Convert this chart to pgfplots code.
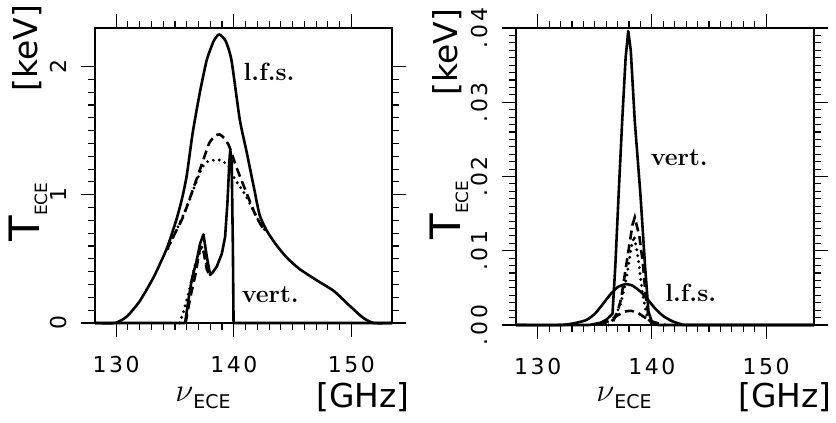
\RequirePackage{fix-cm}
\documentclass[border=0pt]{standalone}
\usepackage{fontspec}
\setmainfont{DejaVu Sans}
\newfontfamily\tickfam[LetterSpace=12]{DejaVu Sans}
\newfontfamily\cmfont{Latin Modern Roman}
\usepackage{pgfplots}
\pgfplotsset{compat=1.18}

\newcommand\tickfont{\tickfam\fontsize{22}{22}\selectfont}
\newcommand\labfont{\fontsize{33}{33}\selectfont}
\newcommand\curvelab{\cmfont\bfseries\fontsize{25}{25}\selectfont}

\pgfplotsset{
  ecebox/.style={
    scale only axis, anchor=south west,
    tick align=inside, xtick pos=both, ytick pos=both,
    major tick length=-14bp, minor tick length=-7bp,
    axis line style={line width=1.4bp},
    tick style={line width=1.1bp,black},
    xtick={130,140,150}, minor x tick num=9,
    minor y tick num=9,
    scaled y ticks=false,
    tick label style={font=\tickfont},
    /pgf/number format/assume math mode=true,
    y tick label style={rotate=90,anchor=south},
    xticklabel shift=30bp, yticklabel shift=25bp,
    clip=false,
  },
  % tick-only pass for the bottom and left edges (no labels)
  tickpass/.style={ecebox,
    tick align=outside, xtick pos=left, ytick pos=left,
    major tick length=14bp, minor tick length=7bp,
    xticklabels={}, yticklabels={}, axis line style={draw=none}},
  sol/.style={black,line width=2.6bp,line join=round},
  dsh/.style={black,line width=2.6bp,dash pattern=on 9bp off 5bp},
  dtt/.style={black,line width=3.2bp,line cap=round,dash pattern=on 0bp off 6bp},
}

\begin{document}
\begin{tikzpicture}[x=1bp,y=1bp]
\path[use as bounding box] (0,0) rectangle (836,422);

% ---- left panel: T_ECE in keV
\begin{axis}[tickpass, at={(95bp,99bp)}, width=297bp, height=295bp,
  xmin=128.2, xmax=153.45, ymin=0, ymax=2.3, ytick={0,1,2}]
\end{axis}
\begin{axis}[ecebox, at={(95bp,99bp)}, width=297bp, height=295bp,
  xmin=128.2, xmax=153.45, ymin=0, ymax=2.3, ytick={0,1,2}]
% l.f.s.
\addplot[sol,smooth,tension=0.35] coordinates {(128.2,0)(129.9,0)(130.9,0.05)(132.0,0.17)(133.2,0.36)(134.3,0.58)(135.1,0.80)(135.6,0.97)(136.0,1.15)(136.5,1.48)(137.1,1.79)(137.7,2.05)(138.3,2.20)(138.75,2.25)(139.3,2.20)(139.8,2.05)(140.5,1.59)(141.1,1.33)(141.7,1.06)(142.2,0.84)(142.8,0.72)(143.6,0.61)(144.5,0.51)(145.6,0.42)(147.1,0.33)(148.5,0.25)(149.9,0.13)(151.0,0.04)(151.9,0)(153.45,0)};
\addplot[dsh,smooth,tension=0.35] coordinates {(134.3,0.57)(135.0,0.70)(135.7,0.83)(136.6,1.06)(137.4,1.27)(137.9,1.40)(138.4,1.46)(138.8,1.47)(139.2,1.44)(139.6,1.38)(140.2,1.22)(141.1,1.01)(141.9,0.83)(142.6,0.72)};
\addplot[dtt,smooth,tension=0.35] coordinates {(134.4,0.58)(135.1,0.72)(135.8,0.86)(136.4,1.00)(136.9,1.12)(137.3,1.21)(137.8,1.26)(138.3,1.27)(138.8,1.27)(139.5,1.23)(140.1,1.12)(140.7,1.04)(141.2,0.96)(141.7,0.87)(142.1,0.80)(142.6,0.73)};
% vert.
\addplot[sol] coordinates {(128.2,0)(135.86,0)(136.14,0.18)(136.43,0.34)(136.85,0.49)(137.14,0.62)(137.42,0.69)(137.7,0.52)(137.99,0.375)(138.25,0.40)(138.55,0.44)(138.98,0.54)(139.26,0.67)(139.46,0.94)(139.63,1.27)(139.7,1.35)(139.82,1.25)(139.92,0.6)(139.98,0)(153.45,0)};
\addplot[dsh] coordinates {(135.9,0)(136.3,0.20)(136.7,0.36)(137.1,0.57)(137.35,0.60)(137.7,0.42)(138.0,0.36)};
\addplot[dtt] coordinates {(135.4,0)(135.7,0.08)(136.2,0.25)(136.7,0.45)(137.1,0.55)(137.4,0.56)(137.7,0.45)(138.0,0.38)};
\node[font=\curvelab] at (axis cs:143.0,1.96) {l.f.s.};
\node[font=\curvelab] at (axis cs:143.1,0.22) {vert.};
\end{axis}

% ---- right panel
\begin{axis}[tickpass, at={(516bp,97bp)}, width=298bp, height=297bp,
  xmin=128.1, xmax=154.2, ymin=0, ymax=0.04,
  ytick={0,0.01,0.02,0.03,0.04}]
\end{axis}
\begin{axis}[ecebox, at={(516bp,97bp)}, width=298bp, height=297bp,
  xmin=128.1, xmax=154.2, ymin=0, ymax=0.04,
  ytick={0,0.01,0.02,0.03,0.04}, yticklabels={.00,.01,.02,.03,.04}]
% vert.
\addplot[sol] coordinates {(128.1,0)(134.5,0)(135.5,0.0003)(136.0,0.0007)(136.55,0.0015)(136.8,0.008)(137.1,0.018)(137.4,0.0275)(137.7,0.036)(137.93,0.0396)(138.15,0.037)(138.5,0.0275)(139.0,0.0175)(139.4,0.008)(139.7,0.0018)(140.0,0.0004)(140.5,0)(154.2,0)};
\addplot[dsh] coordinates {(136.6,0.0005)(137.0,0.0018)(137.3,0.0035)(137.7,0.0075)(138.0,0.0105)(138.3,0.0135)(138.5,0.0145)(138.9,0.012)(139.2,0.0085)(139.45,0.004)(139.7,0.0012)(140.0,0)};
\addplot[dtt] coordinates {(136.2,0)(136.8,0.0012)(137.3,0.003)(137.8,0.0065)(138.2,0.0105)(138.45,0.012)(138.8,0.009)(139.2,0.004)(139.6,0.001)(140.0,0)};
% l.f.s.
\addplot[sol,smooth,tension=0.35] coordinates {(128.1,0)(132.0,0)(133.4,0.0003)(134.3,0.0007)(135.0,0.0015)(135.7,0.0028)(136.3,0.0040)(137.0,0.0051)(137.7,0.0055)(138.3,0.0053)(139.0,0.0045)(139.6,0.0035)(140.3,0.0022)(141.0,0.0012)(141.8,0.0005)(142.6,0.0001)(143.5,0)(154.2,0)};
\addplot[dsh,smooth,tension=0.35] coordinates {(135.5,0)(136.3,0.0006)(137.0,0.0013)(137.6,0.0018)(138.2,0.0019)(138.8,0.0016)(139.4,0.0010)(140.0,0.0005)(140.6,0.0002)(141.2,0)};
\node[font=\curvelab] at (axis cs:142.4,0.0225) {vert.};
\node[font=\curvelab] at (axis cs:143.4,0.0043) {l.f.s.};
\end{axis}

% axis labels
\node[font=\labfont] at (203,24) {$\nu$\raisebox{-7bp}{\fontsize{19}{19}\selectfont ECE}};
\node[font=\labfont] at (363,25) {[GHz]};
\node[font=\labfont] at (624,24) {$\nu$\raisebox{-7bp}{\fontsize{19}{19}\selectfont ECE}};
\node[font=\labfont] at (785,25) {[GHz]};
\node[font=\labfont,rotate=90] at (28,210) {\fontsize{42}{42}\selectfont T\raisebox{-8bp}{\fontsize{17}{17}\selectfont ECE}};
\node[font=\labfont,rotate=90] at (27,374) {[keV]};
\node[font=\labfont,rotate=90] at (449,212) {\fontsize{42}{42}\selectfont T\raisebox{-8bp}{\fontsize{17}{17}\selectfont ECE}};
\node[font=\labfont,rotate=90] at (447,370) {[keV]};
\end{tikzpicture}
\end{document}
